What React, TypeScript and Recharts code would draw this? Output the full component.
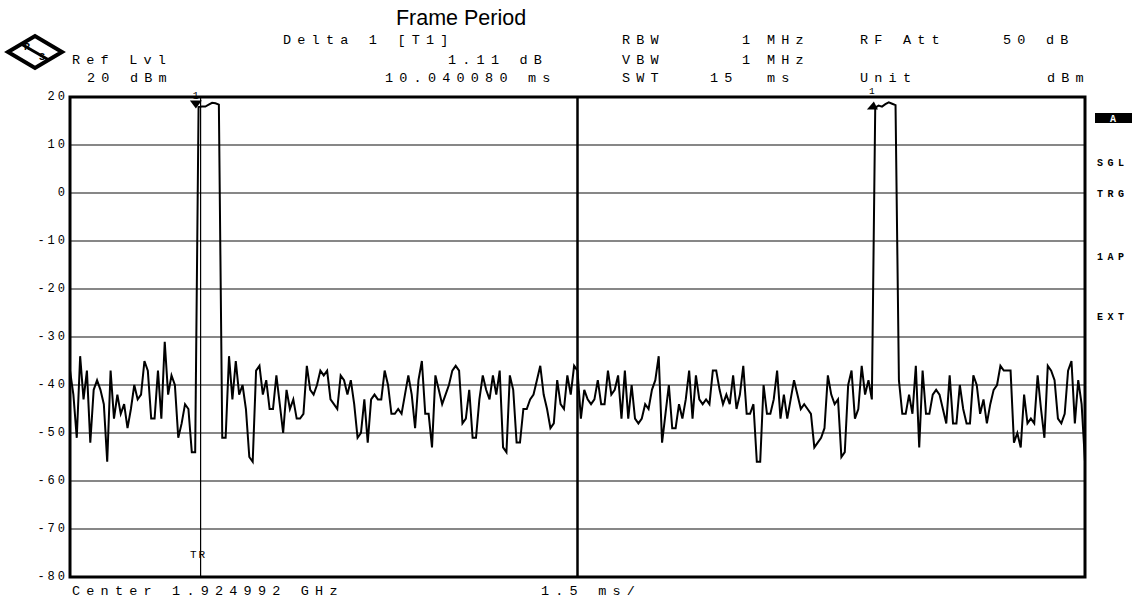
import { CartesianGrid, Line, LineChart, ReferenceArea, ReferenceDot, ReferenceLine, XAxis, YAxis } from "recharts";

// one sweep: 15 ms, level read every 0.05 ms
const SWEEP_STEP_MS = 0.05;
const LEVEL_DBM = [
  -37, -42, -51, -34, -43, -37, -52, -41, -39, -41,
  -44, -56, -37, -47, -42, -46, -44, -49, -45, -40,
  -43, -42, -35, -37, -47, -47, -37, -47, -31, -42,
  -38, -40, -51, -48, -44, -45, -54, -54,
  17.9, 18.0, 18.0, 18.4, 18.8, 18.7, 18.4,
  -51, -51, -34, -43, -35,
  -42, -40, -45, -55, -56, -37, -36, -42, -39, -45,
  -45, -38, -44, -50, -41, -45, -43, -47, -47, -46,
  -36, -41, -42, -40, -37, -38, -37, -43, -44, -45,
  -38, -39, -42, -39, -44, -51, -50, -43, -52, -43,
  -42, -43, -43, -37, -40, -46, -46, -45, -46, -42,
  -38, -42, -49, -39, -35, -46, -46, -53, -38, -41,
  -44, -42, -40, -37, -36, -37, -48, -47, -41, -51,
  -51, -43, -38, -41, -43, -38, -42, -37, -53, -54,
  -38, -41, -52, -52, -45, -45, -43, -42, -39, -36,
  -42, -45, -49, -48, -39, -44, -45, -38, -42, -36,
  -37, -47, -41, -43, -44, -43, -39, -44, -44, -37,
  -42, -41, -38, -47, -37, -47, -40, -47, -48, -47,
  -44, -45, -41, -39, -34, -52, -46, -40, -49, -49,
  -44, -47, -43, -37, -47, -38, -43, -44, -43, -44,
  -37, -37, -41, -44, -42, -44, -38, -45, -42, -36,
  -46, -46, -44, -56, -56, -40, -46, -46, -43, -37,
  -47, -42, -47, -43, -39, -42, -45, -44, -45, -46,
  -53, -52, -51, -49, -38, -42, -44, -43, -55, -54,
  -40, -37, -47, -45, -36, -42, -39, -43,
  17.8, 18.2, 18.0, 18.5, 18.9, 18.6, 18.3,
  -39, -46, -46, -42, -46,
  -36, -53, -37, -46, -46, -42, -41, -42, -45, -48,
  -38, -48, -48, -40, -45, -48, -48, -38, -40, -46,
  -43, -48, -44, -41, -40, -36, -37, -37, -37, -52,
  -50, -53, -42, -48, -47, -48, -38, -45, -51, -36,
  -37, -39, -47, -48, -46, -37, -35, -48, -39, -44,
  -56,
];

const TIME_TICKS_MS = [0, 1.5, 3, 4.5, 6, 7.5, 9, 10.5, 12, 13.5, 15];
const LEVEL_TICKS_DBM = [20, 10, 0, -10, -20, -30, -40, -50, -60, -70, -80];
const MARKER_1 = { t: 1.86, level: 18.0 };
const DELTA_1 = { t: 11.88, level: 18.0 };
const TRIGGER_MS = 1.93;

const data = LEVEL_DBM.map((level, i) => ({ t: +(i * SWEEP_STEP_MS).toFixed(2), level }));

const MONO = "'Liberation Mono', 'DejaVu Sans Mono', monospace";
const txt = { fontFamily: MONO, fontSize: 13.5, letterSpacing: "6.2px", fill: "#000" };
const side = { fontFamily: MONO, fontSize: 10, fontWeight: 700, letterSpacing: "4.5px", fill: "#000" };

function LevelTick(props: any) {
  const { x, y, payload } = props;
  return (
    <text x={x} y={y} textAnchor="end" dominantBaseline="central"
      style={{ fontFamily: MONO, fontSize: 12, letterSpacing: "3px" }} fill="#000">
      {payload.value}
    </text>
  );
}

function TriggerLabel(props: any) {
  const { viewBox } = props;
  return (
    <text x={viewBox.x - 2} y={viewBox.y + viewBox.height - 19} textAnchor="middle"
      style={{ fontFamily: MONO, fontSize: 11, letterSpacing: "2px" }} fill="#000">
      TR
    </text>
  );
}

function MarkerShape(props: any) {
  const { cx, cy } = props;
  return (
    <g>
      <polygon points={`${cx - 6},${cy - 6} ${cx + 6},${cy - 6} ${cx},${cy + 2}`} fill="#000" />
      <text x={cx} y={cy - 8} textAnchor="middle" style={{ fontFamily: MONO, fontSize: 10 }} fill="#000">1</text>
    </g>
  );
}

function DeltaShape(props: any) {
  const { cx, cy } = props;
  return (
    <g>
      <polygon points={`${cx - 7},${cy + 3} ${cx + 4},${cy + 3} ${cx},${cy - 5}`} fill="#000" />
      <text x={cx - 2} y={cy - 13} textAnchor="middle" style={{ fontFamily: MONO, fontSize: 9.5 }} fill="#000">1</text>
    </g>
  );
}

function Overlay() {
  return (
    <svg width={1134} height={598} style={{ position: "absolute", left: 0, top: 0, pointerEvents: "none" }}>
      {/* R&S logo */}
      <polygon points="8,52 35,36 62,52 35,68" fill="#fff" stroke="#000" strokeWidth={4} />
      <line x1={22} y1={44.5} x2={48} y2={59.5} stroke="#000" strokeWidth={3} />
      <text x={24} y={50} style={{ fontFamily: MONO, fontSize: 10, fontWeight: 700 }} fill="#000">R</text>
      <text x={39} y={60} style={{ fontFamily: MONO, fontSize: 10, fontWeight: 700 }} fill="#000">S</text>

      <text x={461} y={25} textAnchor="middle"
        style={{ fontFamily: "'Liberation Sans', Arial, sans-serif", fontSize: 21.5 }} fill="#000">
        Frame Period
      </text>

      <text x={283} y={44} style={txt}>Delta 1 [T1]</text>
      <text x={622} y={44} style={txt}>RBW</text>
      <text x={742} y={44} style={txt}>1</text>
      <text x={767} y={44} style={txt}>MHz</text>
      <text x={860} y={44} style={txt}>RF Att</text>
      <text x={1003} y={44} style={txt}>50 dB</text>

      <text x={72} y={64} style={txt}>Ref Lvl</text>
      <text x={448} y={64} style={txt}>1.11 dB</text>
      <text x={622} y={64} style={txt}>VBW</text>
      <text x={742} y={64} style={txt}>1</text>
      <text x={767} y={64} style={txt}>MHz</text>

      <text x={87} y={82} style={txt}>20 dBm</text>
      <text x={385} y={82} style={txt}>10.040080 ms</text>
      <text x={622} y={82} style={txt}>SWT</text>
      <text x={710} y={82} style={txt}>15</text>
      <text x={767} y={82} style={txt}>ms</text>
      <text x={860} y={82} style={txt}>Unit</text>
      <text x={1047} y={82} style={txt}>dBm</text>

      <rect x={1095} y={113} width={37} height={10} fill="#000" />
      <text x={1113} y={122} textAnchor="middle" style={{ fontFamily: MONO, fontSize: 10, fontWeight: 700 }} fill="#fff">A</text>
      <text x={1097} y={166} style={side}>SGL</text>
      <text x={1097} y={197} style={side}>TRG</text>
      <text x={1097} y={260} style={side}>1AP</text>
      <text x={1097} y={320} style={side}>EXT</text>

      <text x={72} y={595} style={txt}>Center 1.924992 GHz</text>
      <text x={541} y={595} style={txt}>1.5 ms/</text>
    </svg>
  );
}

export default function App() {
  return (
    <div style={{ position: "absolute", left: 0, top: 0, width: 1134, height: 598, background: "#fff" }}>
      <LineChart width={1134} height={598} data={data} margin={{ top: 97, right: 49, bottom: 21, left: 0 }}>
        <CartesianGrid stroke="#111" strokeWidth={1.2} />
        <XAxis type="number" dataKey="t" domain={[0, 15]} ticks={TIME_TICKS_MS} height={0}
          tick={false} tickLine={false} axisLine={false} />
        <YAxis type="number" domain={[-80, 20]} ticks={LEVEL_TICKS_DBM} interval={0} width={70}
          tick={<LevelTick />} tickLine={false} tickSize={0} tickMargin={2} axisLine={false} />
        <ReferenceLine x={7.5} stroke="#000" strokeWidth={2.5} />
        <ReferenceLine x={TRIGGER_MS} stroke="#000" strokeWidth={1.2} label={<TriggerLabel />} />
        <Line type="linear" dataKey="level" stroke="#000" strokeWidth={2} dot={false} isAnimationActive={false} />
        <ReferenceArea x1={0} x2={15} y1={-80} y2={20} fill="none" fillOpacity={0} stroke="#000" strokeWidth={3} />
        <ReferenceDot x={MARKER_1.t} y={MARKER_1.level} shape={<MarkerShape />} />
        <ReferenceDot x={DELTA_1.t} y={DELTA_1.level} shape={<DeltaShape />} />
      </LineChart>
      <Overlay />
    </div>
  );
}
